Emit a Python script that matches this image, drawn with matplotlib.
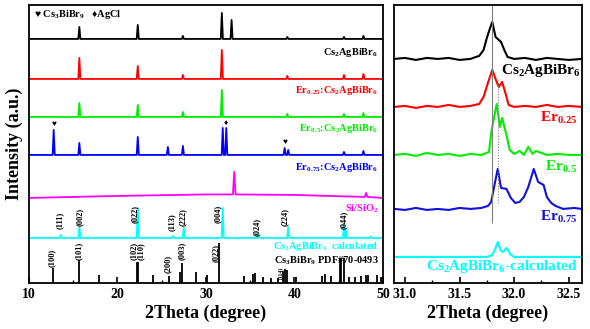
import numpy as np
import matplotlib
matplotlib.use("Agg")
from matplotlib import pyplot as plt
from matplotlib.ticker import MultipleLocator, FormatStrFormatter

plt.rcParams['font.family'] = ['Liberation Serif', 'DejaVu Sans']
plt.rcParams['font.weight'] = 'bold'
plt.rcParams['mathtext.fontset'] = 'custom'
plt.rcParams['mathtext.rm'] = 'Liberation Serif:bold'
plt.rcParams['mathtext.it'] = 'Liberation Serif:bold'
plt.rcParams['mathtext.bf'] = 'Liberation Serif:bold'

# ---- данные: левая панель (широкий диапазон 2theta) ----
# пики каждой кривой: положение (градусы) и высота над базовой линией
black_pos = [15.7, 22.3, 27.4, 31.8, 32.9, 39.2, 45.6, 47.8]
black_h = [12, 14, 3, 26, 19, 2, 2, 3]
black_base = 244

red_pos = [15.7, 22.3, 27.4, 31.8, 39.2, 45.6, 47.8]
red_h = [21, 13, 4, 29, 3, 4, 5]
red_base = 204

green_pos = [15.7, 22.3, 27.4, 31.8, 39.2, 45.6, 47.8]
green_h = [14, 12, 5, 27, 3, 3, 4]
green_base = 166

blue_pos = [12.8, 15.7, 22.3, 25.7, 27.4, 31.9, 32.3, 38.9, 39.3, 45.6, 47.8]
blue_h = [25, 12, 18, 8, 9, 27, 27, 7, 5, 3, 4]
blue_base = 128

# Si/SiO2 подложка - наклонная базовая линия
sio_x = [10, 20, 30, 33.05, 33.2, 33.35, 40, 47.95, 48.1, 48.25, 50]
sio_y = [85, 87, 88.5, 88.5, 111, 88.5, 88, 86, 90, 86, 85]

# расчётная дифрактограмма Cs2AgBiBr6
calc_pos = [13.6, 15.7, 22.3, 26.3, 27.5, 31.9, 35.9, 39.3, 45.6, 45.8, 48.6]
calc_h = [3, 11, 30, 2, 10, 30, 4, 11, 14, 8, 1.5]
calc_base = 45
calc_hkl = ["(111)", "(002)", "(022)", "(113)", "(222)", "(004)", "(024)", "(224)", "(044)"]
calc_hkl_x = [13.5, 15.75, 22.0, 26.1, 27.4, 31.3, 35.7, 38.9, 45.6]
calc_hkl_y = [54, 57, 60, 52, 57, 60, 47, 57, 54]

# штрих-диаграмма Cs3BiBr9 PDF#70-0493
pdf_pos = [12.7, 15.65, 17.9, 22.2, 22.35, 24.0, 25.8, 27.1, 27.3, 28.9, 30.1,
           31.5, 34.3, 35.3, 35.5, 36.4, 37.3, 38.2, 38.7, 38.9, 39.2, 40.2,
           43.1, 43.4, 44.1, 45.1, 45.3, 45.6, 46.2, 46.8, 47.5, 48.1, 48.3,
           49.3, 49.8]
pdf_h = [15, 23, 8, 21, 21, 8, 7, 11, 20, 11, 8,
         40, 7, 9, 10, 6, 5, 5, 12, 14, 13, 6,
         7, 9, 7, 25, 25, 25, 6, 6, 7, 8, 8,
         8, 6]
pdf_hkl = ["(100)", "(101)", "(102)", "(110)", "(200)", "(003)", "(022)"]
pdf_hkl_x = [12.6, 15.6, 21.8, 22.7, 25.75, 27.3, 31.1]
pdf_hkl_y = [16, 23, 23, 23, 10, 23, 21]

# ---- данные: правая панель (пик ~31.8 градуса) ----
r_black_x = [30.9, 31.0, 31.1, 31.2, 31.3, 31.4, 31.5, 31.6, 31.65, 31.68, 31.72, 31.75,
             31.78, 31.80, 31.83, 31.88, 31.91, 31.94, 32.0, 32.1, 32.2, 32.3, 32.4, 32.5, 32.62]
r_black_y = [224, 225, 223, 225, 224, 225, 223, 224, 226, 227, 233, 245,
             255, 261, 246, 241, 233, 226, 224, 225, 223, 225, 224, 223, 224]

r_red_x = [30.9, 31.0, 31.1, 31.2, 31.3, 31.4, 31.5, 31.6, 31.68, 31.72, 31.76, 31.80,
           31.84, 31.86, 31.89, 31.92, 31.95, 32.0, 32.1, 32.2, 32.3, 32.4, 32.5, 32.62]
r_red_y = [176, 177, 175, 177, 176, 178, 176, 177, 179, 186, 200, 213,
           201, 196, 201, 190, 178, 176, 177, 176, 178, 176, 177, 176]

r_green_x = [30.9, 31.0, 31.1, 31.2, 31.3, 31.4, 31.5, 31.6, 31.7, 31.77, 31.79, 31.84,
             31.87, 31.89, 31.93, 31.96, 32.0, 32.05, 32.09, 32.13, 32.17, 32.2, 32.3, 32.4, 32.5, 32.62]
r_green_y = [128, 129, 127, 130, 128, 129, 127, 129, 128, 131, 150, 179,
             156, 165, 148, 133, 129, 132, 128, 136, 129, 132, 128, 129, 128, 128]

r_blue_x = [30.9, 31.0, 31.1, 31.2, 31.3, 31.4, 31.5, 31.6, 31.7, 31.76, 31.79, 31.82,
            31.85, 31.88, 31.93, 31.97, 32.01, 32.05, 32.09, 32.13, 32.18, 32.22, 32.27,
            32.30, 32.34, 32.38, 32.45, 32.55, 32.62]
r_blue_y = [74, 73, 75, 73, 74, 73, 75, 74, 75, 77, 81, 98,
            114, 95, 94, 85, 80, 81, 86, 96, 114, 101, 98,
            86, 80, 77, 74, 75, 74]

r_calc_x = [30.9, 31.5, 31.75, 31.80, 31.83, 31.85, 31.88, 31.90, 31.93, 31.97, 32.0, 32.3, 32.62]
r_calc_y = [26, 26, 26, 28, 35, 41, 32, 31, 35, 28, 26, 26, 26]

PEAK_W = 0.12


def trace(pos, h, base):
    # ломаная из пиков: основание - вершина - основание
    xs, ys = [10], [base]
    for p, v in zip(pos, h):
        xs += [p - PEAK_W, p, p + PEAK_W]
        ys += [base, base + v, base]
    xs.append(50)
    ys.append(base)
    return xs, ys


fig = plt.figure(figsize=(5.9, 3.29), dpi=100)
ax1 = fig.add_axes([0.049, 0.140, 0.600, 0.845])
ax2 = fig.add_axes([0.668, 0.140, 0.318, 0.845])

for pos, h, base, col in [(black_pos, black_h, black_base, "black"),
                          (red_pos, red_h, red_base, "red"),
                          (green_pos, green_h, green_base, "#00EE00"),
                          (blue_pos, blue_h, blue_base, "blue"),
                          (calc_pos, calc_h, calc_base, "cyan")]:
    xs, ys = trace(pos, h, base)
    ax1.plot(xs, ys, color=col, lw=1.3)
ax1.plot(sio_x, sio_y, color="magenta", lw=1.3)
ax1.vlines(pdf_pos, 0, pdf_h, color="black", lw=1.3)

for t, x, y in zip(calc_hkl, calc_hkl_x, calc_hkl_y):
    ax1.text(x, y, t, rotation=90, fontsize=6, ha="center", va="bottom")
for t, x, y in zip(pdf_hkl, pdf_hkl_x, pdf_hkl_y):
    ax1.text(x, y, t, rotation=90, fontsize=6, ha="center", va="bottom")
ax1.text(38.45, 4, "(114)", rotation=90, fontsize=4, ha="center", va="bottom")

# маркеры фаз над пиками
ax1.text(12.8, 155, "♥", fontsize=6, ha="center", va="bottom")
ax1.text(32.3, 156, "♦", fontsize=6, ha="center", va="bottom")
ax1.text(38.9, 137, "♥", fontsize=6, ha="center", va="bottom")
ax1.text(10.6, 268, "♥ Cs$_3$BiBr$_9$   ♦AgCl", fontsize=7.5, ha="left", va="center")

ax1.text(49.5, 230, "Cs$_2$AgBiBr$_6$", color="black", fontsize=7.5, ha="right", va="center")
ax1.text(49.5, 192, "Er$_{0.25}$:Cs$_2$AgBiBr$_6$", color="red", fontsize=7.5, ha="right", va="center")
ax1.text(49.5, 154, "Er$_{0.5}$:Cs$_2$AgBiBr$_6$", color="#00EE00", fontsize=7.5, ha="right", va="center")
ax1.text(49.5, 115, "Er$_{0.75}$:Cs$_2$AgBiBr$_6$", color="blue", fontsize=7.5, ha="right", va="center")
ax1.text(49.5, 74, "Si/SiO$_2$", color="magenta", fontsize=7.5, ha="right", va="center")
ax1.text(49.5, 36, "Cs$_2$AgBiBr$_6$  calculated", color="cyan", fontsize=7.5, ha="right", va="center")
ax1.text(49.5, 22, "Cs$_3$BiBr$_9$ PDF#70-0493", color="black", fontsize=7.5, ha="right", va="center")

ax1.set_xlim(10, 50)
ax1.set_ylim(0, 278)
ax1.xaxis.set_major_locator(MultipleLocator(10))
ax1.xaxis.set_minor_locator(MultipleLocator(5))
ax1.set_yticks([])
ax1.tick_params(axis="x", direction="in", labelsize=10, length=4, width=1.2)
ax1.tick_params(axis="x", which="minor", direction="in", length=2, width=1)
ax1.set_xlabel("2Theta (degree)", fontsize=13, fontweight="bold", labelpad=3)
ax1.set_ylabel("Intensity (a.u.)", fontsize=13, fontweight="bold", labelpad=4)

# правая панель
ax2.plot(r_black_x, r_black_y, color="black", lw=1.5)
ax2.plot(r_red_x, r_red_y, color="red", lw=1.5)
ax2.plot(r_green_x, r_green_y, color="#00EE00", lw=1.5)
ax2.plot(r_blue_x, r_blue_y, color="#1010E0", lw=1.5)
ax2.plot(r_calc_x, r_calc_y, color="cyan", lw=1.5)
ax2.vlines(31.80, 60, 278, color="gray", lw=0.8)
ax2.vlines(31.855, 80, 203, color="gray", lw=0.8, linestyles=(0, (1, 1.5)))

ax2.text(32.61, 212, "Cs$_2$AgBiBr$_6$", color="black", fontsize=11, ha="right", va="center")
ax2.text(32.58, 165, "Er$_{0.25}$", color="red", fontsize=11, ha="right", va="center")
ax2.text(32.58, 116, "Er$_{0.5}$", color="#00EE00", fontsize=11, ha="right", va="center")
ax2.text(32.58, 66, "Er$_{0.75}$", color="#1010E0", fontsize=11, ha="right", va="center")
ax2.text(31.89, 16, "Cs$_2$AgBiBr$_6$-calculated", color="cyan", fontsize=11, ha="center", va="center")

ax2.set_xlim(30.9, 32.62)
ax2.set_ylim(0, 278)
ax2.xaxis.set_major_locator(MultipleLocator(0.5))
ax2.xaxis.set_minor_locator(MultipleLocator(0.25))
ax2.xaxis.set_major_formatter(FormatStrFormatter("%.1f"))
ax2.set_yticks([])
ax2.tick_params(axis="x", direction="in", labelsize=10, length=4, width=1.2)
ax2.tick_params(axis="x", which="minor", direction="in", length=2, width=1)
ax2.set_xlabel("2Theta (degree)", fontsize=13, fontweight="bold", labelpad=3)

for ax in (ax1, ax2):
    for s in ax.spines.values():
        s.set_linewidth(1.3)

fig.savefig("out.png", dpi=100)
